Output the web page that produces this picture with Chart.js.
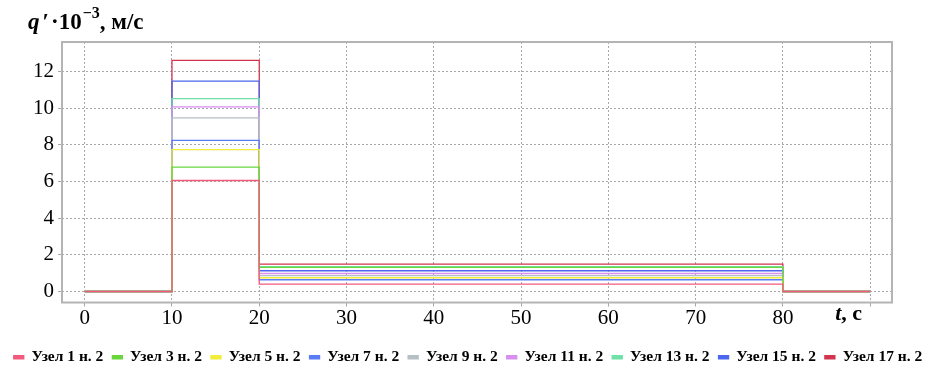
<!DOCTYPE html>
<html>
<head>
<meta charset="utf-8">
<script src="https://cdn.jsdelivr.net/npm/chart.js@4/dist/chart.umd.min.js"></script>
<style>
  html, body { margin: 0; padding: 0; background: #fff; }
  #wrap { width: 936px; height: 365px; }
</style>
</head>
<body>
<div id="wrap"><canvas id="chart"></canvas></div>
<script>
// Time points of the step profile, s
const timePoints = [0, 10, 20, 80, 90];

// Node names (legend)
const nodeLabels = ["Узел 1 н. 2", "Узел 3 н. 2", "Узел 5 н. 2", "Узел 7 н. 2", "Узел 9 н. 2",
  "Узел 11 н. 2", "Узел 13 н. 2", "Узел 15 н. 2", "Узел 17 н. 2"];

// q'·10^-3 during 10..20 s
const peakValues = [6.05, 6.78, 7.73, 8.24, 9.46, 10.06, 10.51, 11.47, 12.6];
// q'·10^-3 during 20..80 s
const plateauValues = [0.40, 1.31, 0.75, 0.64, 0.86, 0.98, 1.36, 1.13, 1.49];

const nodeColors = ["#f25a7c", "#6ad63c", "#f2ec3a", "#5a7cf7", "#b4c0c4",
  "#d890f0", "#6ee0a8", "#4a66ee", "#d2344e"];

// Axis ticks
const xTicks = [0, 10, 20, 30, 40, 50, 60, 70, 80, 90];
const yTicks = [0, 2, 4, 6, 8, 10, 12];

const datasets = nodeLabels.map((label, i) => ({
  label: label,
  data: timePoints.map((t, k) => ({
    x: t,
    y: k === 1 ? peakValues[i] : k === 2 ? plateauValues[i] : 0
  })),
  borderColor: nodeColors[i],
  backgroundColor: nodeColors[i],
  borderWidth: 1.3,
  pointRadius: 0,
  stepped: "before",
  fill: false
}));

// Рамка и подписи осей
const framePlugin = {
  id: "frame",
  afterDraw(chart) {
    const { ctx, chartArea: a } = chart;
    ctx.save();
    ctx.strokeStyle = "#b4b4b4";
    ctx.lineWidth = 2;
    ctx.strokeRect(a.left, a.top, a.right - a.left, a.bottom - a.top);

    ctx.fillStyle = "#000";
    ctx.textBaseline = "alphabetic";
    // y title
    let x = 28, y = 29;
    ctx.font = "italic bold 23px 'Liberation Serif'";
    ctx.fillText("q", x, y); x += ctx.measureText("q").width + 3;
    ctx.font = "bold 23px 'Liberation Serif'";
    ctx.fillText("\u2032", x, y); x += ctx.measureText("\u2032").width + 2;
    ctx.fillText("\u00B710", x, y); x += ctx.measureText("\u00B710").width + 1;
    ctx.font = "bold 16px 'Liberation Serif'";
    ctx.fillText("\u22123", x, y - 11); x += ctx.measureText("\u22123").width;
    ctx.font = "bold 23px 'Liberation Serif'";
    ctx.fillText(", м/с", x, y);

    // x title
    const xs = chart.scales.x;
    let tx = xs.getPixelForValue(90) - 35, ty = 320;
    ctx.font = "italic bold 22px 'Liberation Serif'";
    ctx.fillText("t", tx, ty); tx += ctx.measureText("t").width;
    ctx.font = "bold 22px 'Liberation Serif'";
    ctx.fillText(", с", tx, ty);
    ctx.restore();
  }
};

const gridCommon = {
  color: "#a8a8a8",
  lineWidth: 1,
  tickLength: 4,
  drawTicks: true
};

new Chart(document.getElementById("chart"), {
  type: "line",
  data: { datasets: datasets },
  options: {
    responsive: true,
    maintainAspectRatio: false,
    animation: false,
    layout: { padding: { top: 42, right: 0, left: 0, bottom: -10 } },
    plugins: {
      tooltip: { enabled: false },
      legend: {
        position: "bottom",
        labels: {
          boxWidth: 10,
          boxHeight: 3,
          padding: 9,
          color: "#000",
          font: { family: "'Liberation Serif'", size: 15.5, weight: "bold" }
        }
      }
    },
    scales: {
      x: {
        type: "linear",
        min: -2.6,
        max: 92.5,
        grid: gridCommon,
        border: { display: false, dash: [2, 2] },
        afterBuildTicks: (axis) => { axis.ticks = xTicks.map(v => ({ value: v })); },
        afterFit: (axis) => { axis.height = 38; },
        ticks: {
          color: "#000",
          padding: -1,
          maxRotation: 0,
          font: { family: "'Liberation Serif'", size: 21 },
          callback: (v) => (v === 90 ? "" : String(v))
        }
      },
      y: {
        min: -0.6,
        max: 13.6,
        grid: gridCommon,
        border: { display: false, dash: [2, 2] },
        afterBuildTicks: (axis) => { axis.ticks = yTicks.map(v => ({ value: v })); },
        afterFit: (axis) => { axis.width = 62; },
        ticks: {
          color: "#000",
          padding: 4,
          font: { family: "'Liberation Serif'", size: 21 },
          callback: (v) => String(v)
        }
      },
      // пустая правая ось — только отступ справа
      yRight: {
        display: true,
        position: "right",
        grid: { display: false },
        border: { display: false },
        ticks: { display: false },
        afterFit: (axis) => { axis.width = 44; }
      }
    }
  },
  plugins: [framePlugin]
});
</script>
</body>
</html>
